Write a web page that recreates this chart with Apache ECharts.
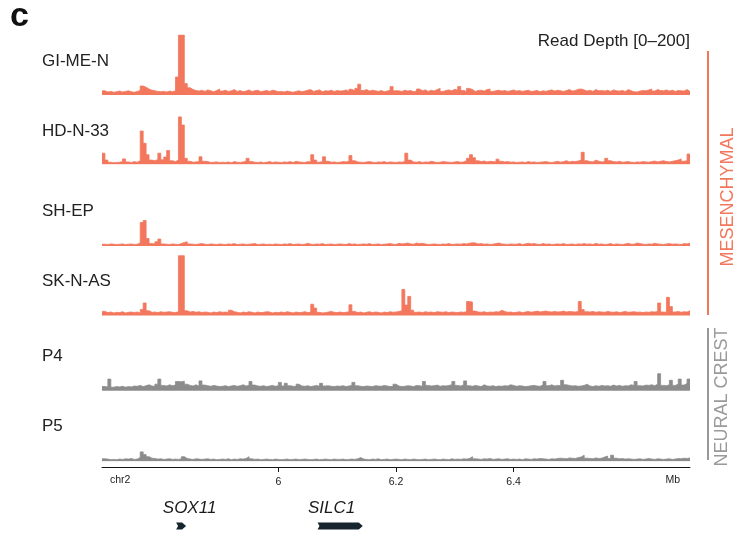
<!DOCTYPE html>
<html><head><meta charset="utf-8">
<script src="https://cdn.jsdelivr.net/npm/echarts@6/dist/echarts.min.js"></script>
<style>html,body{margin:0;padding:0;background:#fff}#c{width:755px;height:538px}</style>
</head><body><div id="c"></div>
<script>
// ---------------- data ----------------
const trackNames = ['GI-ME-N', 'HD-N-33', 'SH-EP', 'SK-N-AS', 'P4', 'P5'];
const trackGroups = ['MESENCHYMAL', 'MESENCHYMAL', 'MESENCHYMAL', 'MESENCHYMAL', 'NEURAL CREST', 'NEURAL CREST'];
const regionStartMb = 5.7;
const regionEndMb = 6.7;
const binMb = 0.005;            // each value below covers 5 kb
const readDepthMax = 200;
const xTickValues = [6, 6.2, 6.4];

const giMeN = [
  14,10,12,9,11,13,10,12,14,11,9,12,15,30,26,20,16,14,12,11,
  12,10,13,11,14,60,200,200,38,24,18,15,13,16,12,17,14,11,15,20,
  13,16,12,14,18,12,15,11,13,17,12,14,16,11,13,15,12,16,14,11,
  12,10,13,11,9,12,14,11,13,16,18,12,15,17,11,14,13,16,12,15,
  13,14,17,12,19,14,22,36,15,18,13,16,14,12,15,11,13,16,28,14,
  14,12,16,13,15,11,13,20,14,17,12,16,13,18,22,12,15,17,14,19,
  16,28,15,12,22,18,12,15,16,13,18,20,12,14,16,13,15,12,14,17,
  13,15,12,14,16,12,13,15,11,14,12,15,17,13,16,14,12,15,18,13,
  15,19,20,17,13,16,12,18,14,15,13,16,12,17,14,13,15,12,18,14,
  11,10,13,15,14,17,20,13,18,15,14,17,13,16,12,15,14,13,18,12
];
const hdN33 = [
  37,14,7,5,6,7,9,18,8,6,9,7,12,111,70,32,14,12,16,37,
  15,24,46,12,9,14,158,131,20,10,7,8,9,25,10,9,6,7,8,6,
  7,6,8,5,9,7,6,8,10,20,9,7,6,8,5,7,9,6,8,7,
  6,8,7,9,6,10,8,7,6,9,8,32,14,7,9,25,10,7,8,6,
  7,9,8,10,29,12,8,7,6,8,9,7,6,8,7,9,6,8,7,6,
  8,7,9,37,14,8,7,9,6,8,7,10,8,6,7,9,8,7,6,8,
  9,7,8,12,20,32,22,12,9,11,8,10,9,8,17,10,8,9,7,8,
  6,7,8,6,9,7,8,6,7,8,9,7,6,8,10,7,9,12,8,10,
  9,11,14,40,12,9,8,14,10,8,9,20,12,9,8,10,7,8,9,7,
  6,8,7,9,8,7,9,11,8,10,12,9,8,10,12,14,18,10,12,34
];
const shEP = [
  6,5,7,6,5,6,7,5,6,7,5,6,10,78,85,25,8,7,14,23,
  7,6,5,7,6,5,8,12,14,7,6,5,7,8,6,5,7,6,5,7,
  6,5,7,6,8,5,6,7,5,6,7,8,5,6,7,5,6,5,7,6,
  5,7,6,8,5,6,7,5,6,9,6,5,7,6,8,5,6,7,5,6,
  7,6,5,8,6,7,5,6,7,6,8,5,6,7,5,6,7,8,6,5,
  9,7,8,10,7,6,10,8,9,7,5,6,7,6,5,7,6,8,5,6,
  7,6,8,7,9,11,10,7,8,6,7,5,6,8,10,7,6,5,7,6,
  6,8,5,7,9,7,8,6,5,8,6,7,5,6,7,6,8,5,6,7,
  5,7,6,8,6,7,5,9,6,7,5,6,8,5,7,6,5,7,9,6,
  6,10,8,6,5,7,6,9,7,6,5,7,8,6,7,6,5,8,7,9
];
const skNAS = [
  14,10,12,9,11,10,13,9,11,12,10,12,9,20,42,16,11,12,10,13,
  11,12,13,11,10,13,200,200,16,12,14,11,13,10,12,11,9,12,10,13,
  11,12,10,18,13,11,9,12,10,13,11,9,12,10,11,13,12,9,11,10,
  12,10,13,11,9,12,10,11,13,10,12,38,25,11,9,10,12,14,11,10,
  12,10,11,13,36,14,10,12,9,11,13,10,12,11,9,12,10,13,11,12,
  14,16,87,35,64,18,11,12,10,13,11,12,10,13,12,11,13,10,12,11,
  10,12,11,13,47,45,15,12,11,13,10,12,11,13,12,18,14,11,12,10,
  11,13,10,12,14,11,13,15,12,14,15,13,12,14,12,13,15,12,14,13,
  12,14,47,20,13,12,14,11,13,12,11,14,12,11,13,10,12,14,11,12,
  13,11,12,10,12,11,13,12,14,42,12,11,61,30,12,14,11,13,12,16
];
const p4 = [
  14,13,39,12,14,13,15,12,14,13,16,15,18,14,17,20,16,15,22,39,
  18,16,20,17,19,31,30,32,22,18,16,20,15,33,19,17,15,18,16,14,
  15,17,14,16,18,15,17,20,16,18,31,19,16,15,17,14,16,18,15,17,
  28,16,25,17,15,14,22,16,15,17,14,16,18,15,25,16,17,15,14,16,
  15,17,14,16,18,28,17,15,14,16,15,14,17,16,15,18,16,14,15,22,
  16,14,15,17,16,14,18,17,15,31,18,16,17,19,15,17,16,18,20,31,
  18,16,19,33,17,15,18,16,14,20,16,15,17,14,16,15,17,16,20,18,
  15,17,16,14,15,17,18,16,15,19,31,17,20,16,18,17,35,20,18,16,
  17,15,16,18,22,16,14,17,15,18,16,17,15,19,16,18,15,17,16,20,
  18,31,17,16,19,18,20,17,22,57,18,17,20,35,18,22,39,19,24,39
];
const p5 = [
  8,7,5,6,5,7,6,8,7,9,6,7,12,31,22,15,10,9,7,8,
  6,7,8,6,7,6,8,15,9,7,6,8,7,6,7,8,6,7,5,6,
  7,6,8,5,7,6,8,7,9,15,8,6,7,5,6,7,6,5,7,6,
  5,6,7,5,6,7,5,6,7,6,5,6,7,5,6,7,6,5,7,6,
  6,7,5,6,7,6,8,12,7,6,5,7,6,8,5,6,7,5,6,7,
  6,5,7,6,5,7,6,5,6,7,5,6,7,6,5,7,6,5,8,6,
  7,6,8,7,9,15,8,7,6,8,7,9,6,7,8,6,7,8,6,7,
  6,7,5,8,7,6,8,7,9,8,7,6,8,7,9,10,9,8,11,10,
  9,12,14,20,10,9,8,11,9,10,14,17,9,20,10,8,9,7,8,7,
  6,7,8,6,7,9,7,6,8,7,6,7,8,6,7,9,8,10,9,11
];
const geneNames = ['SOX11', 'SILC1'];
const geneStartMb = [5.826, 6.0665];
const geneEndMb = [5.843, 6.1435];

// ---------------- layout / style ----------------
const tracks = [giMeN, hdN33, shEP, skNAS, p4, p5];
const SALMON = '#F2775D';
const GRAY = '#8C8C8C';
const trackColors = [SALMON, SALMON, SALMON, SALMON, GRAY, GRAY];
const trackTops = [35, 104.3, 186, 255.6, 330.8, 401.2];
const trackHeight = 60;
const labelY = [61, 131, 211.5, 281, 356, 426.5];
const geneLabelShift = [8.5, -8.5];
const FONT = '"Liberation Sans", Arial, Helvetica, sans-serif';
const LEFT = 102, RIGHT = 65;

const grids = [], xAxes = [], yAxes = [], series = [];
tracks.forEach((vals, i) => {
  grids.push({ left: LEFT, right: RIGHT, top: trackTops[i], height: trackHeight });
  xAxes.push({ type: 'value', gridIndex: i, min: regionStartMb, max: regionEndMb, show: false });
  yAxes.push({ type: 'value', gridIndex: i, min: 0, max: readDepthMax, show: false });
  const pts = vals.map((v, k) => [regionStartMb + k * binMb, v]);
  pts.push([regionEndMb, vals[vals.length - 1]]);
  series.push({
    name: trackNames[i], type: 'line', xAxisIndex: i, yAxisIndex: i,
    step: 'end', symbol: 'none', silent: true, clip: true,
    lineStyle: { color: trackColors[i], width: 0.8 },
    areaStyle: { color: trackColors[i], opacity: 1 },
    data: pts
  });
});
// ruler axis
const ai = tracks.length;
grids.push({ left: LEFT, right: RIGHT, top: 420, height: 47 });
xAxes.push({
  type: 'value', gridIndex: ai, min: regionStartMb, max: regionEndMb, position: 'bottom',
  axisLine: { show: true, onZero: false, lineStyle: { color: '#151515', width: 1 } },
  axisTick: { show: true, customValues: xTickValues, length: 5, lineStyle: { color: '#151515', width: 1 } },
  axisLabel: { show: true, customValues: xTickValues, margin: 10, fontSize: 10.5, color: '#222', fontFamily: FONT,
    formatter: v => String(v) },
  splitLine: { show: false }
});
yAxes.push({ type: 'value', gridIndex: ai, min: 0, max: 1, show: false });
// gene track
const gi = ai + 1;
grids.push({ left: LEFT, right: RIGHT, top: 498, height: 32 });
xAxes.push({ type: 'value', gridIndex: gi, min: regionStartMb, max: regionEndMb, show: false });
yAxes.push({ type: 'value', gridIndex: gi, min: 0, max: 1, show: false });
series.push({
  type: 'custom', xAxisIndex: gi, yAxisIndex: gi, silent: true,
  data: geneNames.map((n, k) => [geneStartMb[k], geneEndMb[k]]),
  renderItem: (params, api) => {
    const x0 = api.coord([api.value(0), 0])[0];
    const x1 = api.coord([api.value(1), 0])[0];
    const cs = params.coordSys;
    const yc = cs.y + cs.height - 4;
    const h = 3.5, tip = 4, notch = 2;
    const k = params.dataIndex;
    return { type: 'group', children: [
      { type: 'polygon', shape: { points: [[x0, yc - h], [x1 - tip, yc - h], [x1, yc], [x1 - tip, yc + h], [x0, yc + h], [x0 + notch, yc]] },
        style: { fill: '#17252d' } },
      { type: 'text', x: (x0 + x1) / 2 + geneLabelShift[k], y: cs.y + 10.5,
        style: { text: geneNames[k], fill: '#1a1a1a', font: 'italic 17px ' + FONT, align: 'center', verticalAlign: 'middle' } }
    ] };
  }
});

const graphic = [
  { type: 'text', left: 10, top: 0, style: { text: 'c', fill: '#111', font: 'bold 34px ' + FONT } },
  { type: 'text', x: 690, y: 41, style: { text: 'Read Depth [0\u2013200]', fill: '#222', font: '17px ' + FONT, align: 'right', verticalAlign: 'middle' } },
  { type: 'line', shape: { x1: 708, y1: 51, x2: 708, y2: 315 }, style: { stroke: SALMON, lineWidth: 2 } },
  { type: 'line', shape: { x1: 708, y1: 328, x2: 708, y2: 460 }, style: { stroke: '#999', lineWidth: 2 } },
  { type: 'text', x: 728, y: 197, rotation: Math.PI / 2, style: { text: trackGroups[0], fill: SALMON, font: '18px ' + FONT, align: 'center', verticalAlign: 'middle' } },
  { type: 'text', x: 722, y: 397, rotation: Math.PI / 2, style: { text: trackGroups[4], fill: '#9a9a9a', font: '18px ' + FONT, align: 'center', verticalAlign: 'middle' } },
  { type: 'text', x: 110, y: 480.5, style: { text: 'chr2', fill: '#222', font: '10.5px ' + FONT, align: 'left', verticalAlign: 'middle' } },
  { type: 'text', x: 680, y: 480.3, style: { text: 'Mb', fill: '#222', font: '10.5px ' + FONT, align: 'right', verticalAlign: 'middle' } }
];
trackNames.forEach((n, i) => {
  graphic.push({ type: 'text', x: 42, y: labelY[i], style: { text: n, fill: '#222', font: '17px ' + FONT, align: 'left', verticalAlign: 'middle' } });
});

const chart = echarts.init(document.getElementById('c'), null, { renderer: 'canvas' });
chart.setOption({
  animation: false,
  backgroundColor: '#fff',
  grid: grids, xAxis: xAxes, yAxis: yAxes, series: series, graphic: graphic
});
</script></body></html>
